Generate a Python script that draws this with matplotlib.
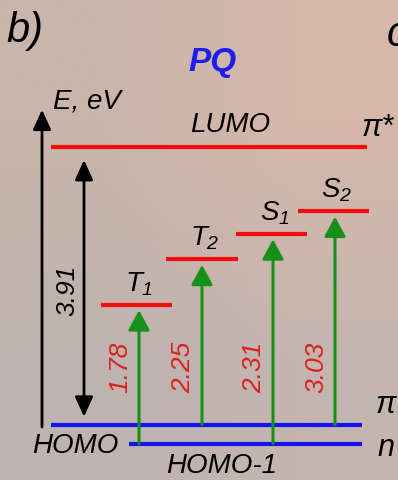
import numpy as np
import matplotlib.pyplot as plt
from matplotlib.patches import FancyArrowPatch

plt.rcParams['font.family'] = ['Liberation Sans', 'DejaVu Sans']
plt.rcParams['mathtext.fontset'] = 'custom'
plt.rcParams['mathtext.it'] = 'Liberation Sans:italic'
plt.rcParams['mathtext.rm'] = 'Liberation Sans:italic'

# energies in eV, HOMO taken as zero
homo = 0.0
homo1 = -0.27
lumo = 3.91
gap_label = '3.91'

states = ['T_1', 'T_2', 'S_1', 'S_2']
state_level = [1.69, 2.33, 2.69, 3.01]      # schematic heights of the excited states
state_origin = ['n', 'pi', 'n', 'pi']       # orbital each transition starts from
transition_labels = ['1.78', '2.25', '2.31', '3.03']

# horizontal layout
level_x = [(101, 172), (166, 238), (236, 307), (298, 369)]
arrow_x = [139, 202, 273, 335]

RED = '#f40d0d'
BLUE = '#1414ee'
GREEN = '#17901a'
TXT_RED = '#dd1f1f'

px_per_ev = 70.9
fig = plt.figure(figsize=(3.98, 4.80), dpi=100)
ax = fig.add_axes([0, 0, 1, 1])
ax.set_xlim(0, 398)
ax.set_ylim(-55.5 / px_per_ev, 424.5 / px_per_ev)
ax.axis('off')

# warm background wash
bg = np.array([[[190, 179, 175], [196, 181, 176]],
               [[201, 181, 171], [214, 184, 170]]]) / 255.0
ax.imshow(bg, extent=(0, 398, *ax.get_ylim()), origin='lower',
          interpolation='bilinear', aspect='auto', zorder=0)


def arrow(x, y0, y1, color, style='-|>', lw=2.2, shrinkB=0, hw=0.65):
    a = FancyArrowPatch((x, y0), (x, y1),
                        arrowstyle=style + ',head_length=1.2,head_width=%g' % hw,
                        mutation_scale=10, color=color, lw=lw,
                        shrinkA=0, shrinkB=shrinkB, zorder=4)
    ax.add_patch(a)


# orbital levels
ax.plot([51, 367], [lumo, lumo], color=RED, lw=3, solid_capstyle='butt', zorder=3)
ax.plot([51, 362], [homo, homo], color=BLUE, lw=3, solid_capstyle='butt', zorder=3)
ax.plot([129, 362], [homo1, homo1], color=BLUE, lw=3, solid_capstyle='butt', zorder=3)

# energy axis and the HOMO-LUMO gap
arrow(42, -0.035, 4.44, 'black', lw=2, hw=0.55)
arrow(84, homo + 0.11, lumo - 0.18, 'black', style='<|-|>', lw=2, hw=0.55)
ax.text(67, (homo + lumo) / 2 - 0.07, gap_label, rotation=90, fontsize=19,
        style='italic', ha='center', va='center')

origins = {'n': homo1, 'pi': homo}
for name, lvl, org, lab, (x0, x1), xa in zip(states, state_level, state_origin,
                                            transition_labels, level_x, arrow_x):
    ax.plot([x0, x1], [lvl, lvl], color=RED, lw=3, solid_capstyle='butt', zorder=3)
    arrow(xa, origins[org], lvl, GREEN, shrinkB=4)
    ax.annotate('$' + name[0] + '_{' + name[2] + '}$', ((x0 + x1) / 2 + 3, lvl),
                xytext=(0, 5), textcoords='offset points',
                ha='center', va='bottom', fontsize=20)
    ax.text(xa - 19, 0.8, lab, rotation=90, fontsize=19, style='italic',
            color=TXT_RED, ha='center', va='center')

# orbital labels
ax.annotate('LUMO', (230, lumo), xytext=(0, 7), textcoords='offset points',
            ha='center', va='bottom', fontsize=20, style='italic')
ax.annotate('π*', (362, lumo), xytext=(0, 3), textcoords='offset points',
            ha='left', va='bottom', fontsize=22, style='italic')
ax.annotate('π', (376, homo), xytext=(0, 3), textcoords='offset points',
            ha='left', va='bottom', fontsize=22, style='italic')
ax.annotate('n', (377, homo1), xytext=(0, -3), textcoords='offset points',
            ha='left', va='center', fontsize=22, style='italic')
ax.annotate('HOMO', (75, homo), xytext=(0, -6), textcoords='offset points',
            ha='center', va='top', fontsize=20, style='italic')
ax.annotate('HOMO-1', (222, homo1), xytext=(0, -7), textcoords='offset points',
            ha='center', va='top', fontsize=20, style='italic')

ax.text(53, 4.45, 'E, eV', fontsize=20, style='italic', ha='left', va='baseline')

# panel titles
ax.text(0.535, 0.87, 'PQ', transform=ax.transAxes, fontsize=24,
        fontweight='bold', style='italic', color='#1d1dee', ha='center', va='center')
ax.text(0.015, 0.935, 'b)', transform=ax.transAxes, fontsize=30,
        style='italic', ha='left', va='center')
ax.text(0.972, 0.928, 'c', transform=ax.transAxes, fontsize=30,
        style='italic', ha='left', va='center')

fig.savefig('out.png', dpi=100)
